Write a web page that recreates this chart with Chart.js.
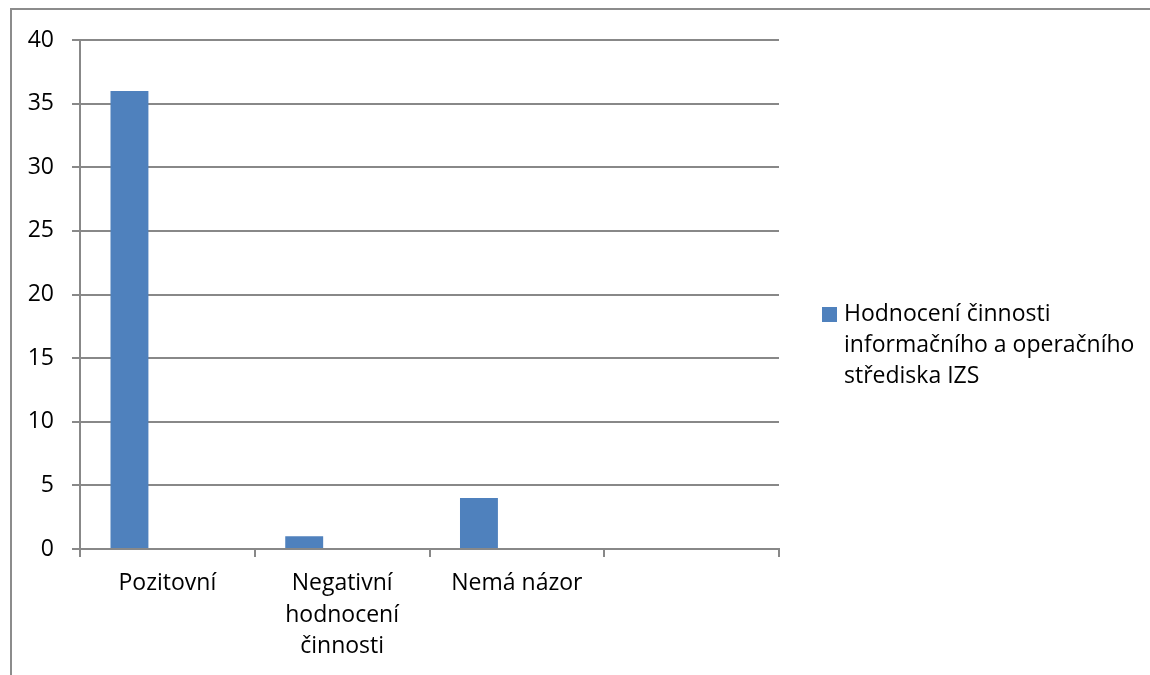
<!DOCTYPE html>
<html>
<head>
<meta charset="utf-8">
<script src="https://cdn.jsdelivr.net/npm/chart.js@4.4.0/dist/chart.umd.min.js"></script>
<style>
  html, body { margin: 0; padding: 0; background: #fff; }
  #wrap { position: relative; width: 1150px; height: 675px; }
  #frame {
    position: absolute; left: 10px; top: 8px; right: 0; bottom: 0;
    border-top: 2px solid #8c8c8c; border-left: 2px solid #8c8c8c;
  }
</style>
</head>
<body>
<div id="wrap">
  <div id="frame"></div>
  <canvas id="chart" width="1150" height="675"></canvas>
</div>
<script>
const categories = [["Pozitovní"], ["Negativní", "hodnocení", "činnosti"], ["Nemá názor"], [""]];
const seriesName = "Hodnocení činnosti informačního a operačního střediska IZS";
const legendLines = ["Hodnocení činnosti", "informačního a operačního", "střediska IZS"];
const values = [36, 1, 4, null];
const emptySeries = [null, null, null, null];
const yTicks = [0, 5, 10, 15, 20, 25, 30, 35, 40];

const FONT = "'Open Sans', 'Noto Sans', sans-serif";
const FSIZE = 23;
const BAR = "#4f81bd";
const GRID = "#888888";

// legend drawn to the right, wrapped like the original
const sideLegend = {
  id: "sideLegend",
  afterDraw(chart) {
    const ctx = chart.ctx;
    ctx.save();
    ctx.fillStyle = BAR;
    ctx.fillRect(822, 307, 15, 15);
    ctx.fillStyle = "#000";
    ctx.font = FSIZE + "px " + FONT;
    ctx.textBaseline = "middle";
    legendLines.forEach((line, i) => {
      ctx.fillText(line, 844, 314 + i * 31);
    });
    ctx.restore();
  },
};

const ctx = document.getElementById("chart").getContext("2d");
new Chart(ctx, {
  type: "bar",
  data: {
    labels: categories,
    datasets: [
      { label: seriesName, data: values, backgroundColor: BAR },
      { label: "", data: emptySeries, backgroundColor: BAR },
      { label: "", data: emptySeries, backgroundColor: BAR },
    ],
  },
  options: {
    responsive: false,
    animation: false,
    layout: { padding: { top: 40, right: 371, left: 0, bottom: 0 } },
    datasets: {
      bar: { categoryPercentage: 0.651, barPercentage: 1 },
    },
    plugins: {
      legend: { display: false },
      tooltip: { enabled: false },
    },
    scales: {
      x: {
        grid: {
          offset: true,
          drawOnChartArea: false,
          drawTicks: true,
          tickLength: 8,
          color: GRID,
          lineWidth: 2,
        },
        border: { display: true, color: GRID, width: 2 },
        ticks: {
          color: "#000",
          font: { family: FONT, size: FSIZE, lineHeight: 1.39 },
          padding: 10,
          maxRotation: 0,
          autoSkip: false,
        },
        afterFit(scale) { scale.height = 675 - 549; },
      },
      y: {
        min: 0,
        max: 40,
        afterBuildTicks(scale) { scale.ticks = yTicks.map((v) => ({ value: v })); },
        grid: { color: GRID, lineWidth: 2, tickLength: 8 },
        border: { display: true, color: GRID, width: 2 },
        ticks: {
          color: "#000",
          font: { family: FONT, size: FSIZE },
          padding: 18,
        },
        afterFit(scale) { scale.width = 80; },
      },
    },
  },
  plugins: [sideLegend],
});
</script>
</body>
</html>
